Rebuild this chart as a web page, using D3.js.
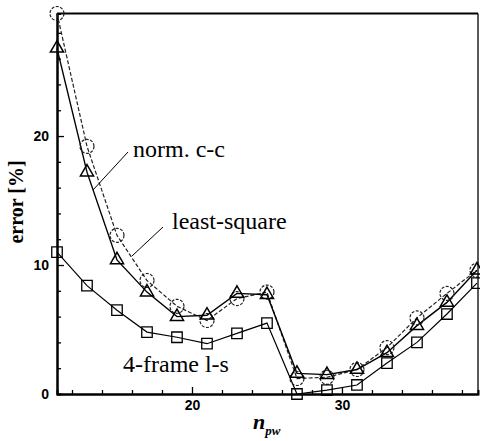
<!DOCTYPE html>
<html>
<head>
<meta charset="utf-8">
<script src="https://cdn.jsdelivr.net/npm/d3@7"></script>
<style>
  html, body { margin: 0; padding: 0; background: #fff; }
  svg { display: block; }
</style>
</head>
<body>
<script>
// ---- data ----
const npw = [11, 13, 15, 17, 19, 21, 23, 25, 27, 29, 31, 33, 35, 37, 39];
const normCC = [29.5, 19.2, 12.3, 8.8, 6.8, 5.7, 7.4, 7.9, 1.2, 1.3, 1.9, 3.6, 5.9, 7.8, 9.6];
const leastSquare = [26.8, 17.2, 10.4, 7.9, 6.0, 6.1, 7.8, 7.7, 1.6, 1.5, 1.9, 3.2, 5.3, 7.1, 9.6];
const fourFrame = [11.0, 8.4, 6.5, 4.8, 4.4, 3.9, 4.7, 5.5, 0.0, 0.3, 0.7, 2.4, 4.0, 6.2, 8.6];
const xMajorTicks = [20, 30];
const xMinorTicks = [12, 14, 16, 18, 22, 24, 26, 28, 32, 34, 36, 38];
const yMajorTicks = [0, 10, 20];
const yMinorTicks = [2, 4, 6, 8, 12, 14, 16, 18, 22, 24, 26, 28];

const W = 480, H = 441;
const svg = d3.select("body").append("svg").attr("width", W).attr("height", H);

const x = d3.scaleLinear().domain([11, 39.07]).range([57, 478]);
const y = d3.scaleLinear().domain([0, 29.5]).range([394, 13.5]);

const tickFont = "'Liberation Sans', Arial, sans-serif";
const serif = "'Liberation Serif', 'Times New Roman', serif";

// frame top & right
svg.append("line").attr("x1", x(11)).attr("x2", x(39.07)).attr("y1", y(29.5)).attr("y2", y(29.5))
  .attr("stroke", "#000").attr("stroke-width", 2);
svg.append("line").attr("x1", x(39.07)).attr("x2", x(39.07)).attr("y1", y(29.5)).attr("y2", y(0))
  .attr("stroke", "#000").attr("stroke-width", 1.3);

// axes
function styleAxis(g) {
  g.select(".domain").attr("stroke", "#000").attr("stroke-width", 2);
  g.selectAll(".tick line").attr("stroke", "#000").attr("stroke-width", 1.3);
  g.selectAll(".tick text").attr("font-family", tickFont).attr("font-weight", "bold")
    .attr("font-size", 14).attr("fill", "#000");
}
const gxMinor = svg.append("g").attr("transform", `translate(0,${y(0)})`)
  .call(d3.axisBottom(x).tickValues(xMinorTicks).tickSize(-4).tickFormat(""));
styleAxis(gxMinor);
const gx = svg.append("g").attr("transform", `translate(0,${y(0)})`)
  .call(d3.axisBottom(x).tickValues(xMajorTicks).tickSizeInner(-7).tickSizeOuter(0).tickPadding(6).tickFormat(d3.format("d")));
styleAxis(gx);
const gyMinor = svg.append("g").attr("transform", `translate(${x(11)},0)`)
  .call(d3.axisLeft(y).tickValues(yMinorTicks).tickSize(-4).tickFormat(""));
styleAxis(gyMinor);
const gy = svg.append("g").attr("transform", `translate(${x(11)},0)`)
  .call(d3.axisLeft(y).tickValues(yMajorTicks).tickSizeInner(-7).tickSizeOuter(0).tickPadding(8).tickFormat(d3.format("d")));
styleAxis(gy);

// series lines
const line = d3.line().x((d, i) => x(npw[i])).y(d => y(d));
svg.append("path").datum(normCC).attr("d", line).attr("fill", "none")
  .attr("stroke", "#222").attr("stroke-width", 1.2).attr("stroke-dasharray", "4,2");
svg.append("path").datum(leastSquare).attr("d", line).attr("fill", "none")
  .attr("stroke", "#000").attr("stroke-width", 1.4);
svg.append("path").datum(fourFrame).attr("d", line).attr("fill", "none")
  .attr("stroke", "#000").attr("stroke-width", 1.2);

// markers
svg.append("g").selectAll("circle").data(normCC).join("circle")
  .attr("cx", (d, i) => x(npw[i])).attr("cy", d => y(d)).attr("r", 7)
  .attr("fill", "none").attr("stroke", "#222").attr("stroke-width", 1.2).attr("stroke-dasharray", "3,1.5");
const tri = d3.symbol().type(d3.symbolTriangle).size(75);
svg.append("g").selectAll("path").data(leastSquare).join("path")
  .attr("d", tri).attr("transform", (d, i) => `translate(${x(npw[i])},${y(d)})`)
  .attr("fill", "none").attr("stroke", "#000").attr("stroke-width", 1.5);
const sq = d3.symbol().type(d3.symbolSquare).size(110);
svg.append("g").selectAll("path").data(fourFrame).join("path")
  .attr("d", sq).attr("transform", (d, i) => `translate(${x(npw[i])},${y(d)})`)
  .attr("fill", "none").attr("stroke", "#000").attr("stroke-width", 1.3);

// annotations
function label(txt, tx, ty) {
  svg.append("text").attr("x", tx).attr("y", ty).text(txt)
    .attr("font-family", serif).attr("font-size", 24).attr("fill", "#000");
}
label("norm. c-c", 133, 157);
label("least-square", 172, 229);
label("4-frame l-s", 123, 372);
svg.append("line").attr("x1", 128).attr("y1", 152).attr("x2", 93).attr("y2", 190)
  .attr("stroke", "#000").attr("stroke-width", 1);
svg.append("line").attr("x1", 163).attr("y1", 227).attr("x2", 132).attr("y2", 256)
  .attr("stroke", "#000").attr("stroke-width", 1);

// axis titles
svg.append("text").attr("transform", "translate(23,202) rotate(-90)")
  .attr("text-anchor", "middle").attr("font-family", serif).attr("font-weight", "bold")
  .attr("font-size", 20).text("error [%]");
const xt = svg.append("text").attr("x", 253).attr("y", 429)
  .attr("font-family", serif).attr("font-style", "italic").attr("font-weight", "bold");
xt.append("tspan").attr("font-size", 22).text("n");
xt.append("tspan").attr("font-size", 13).attr("dy", 6).text("pw");
</script>
</body>
</html>
